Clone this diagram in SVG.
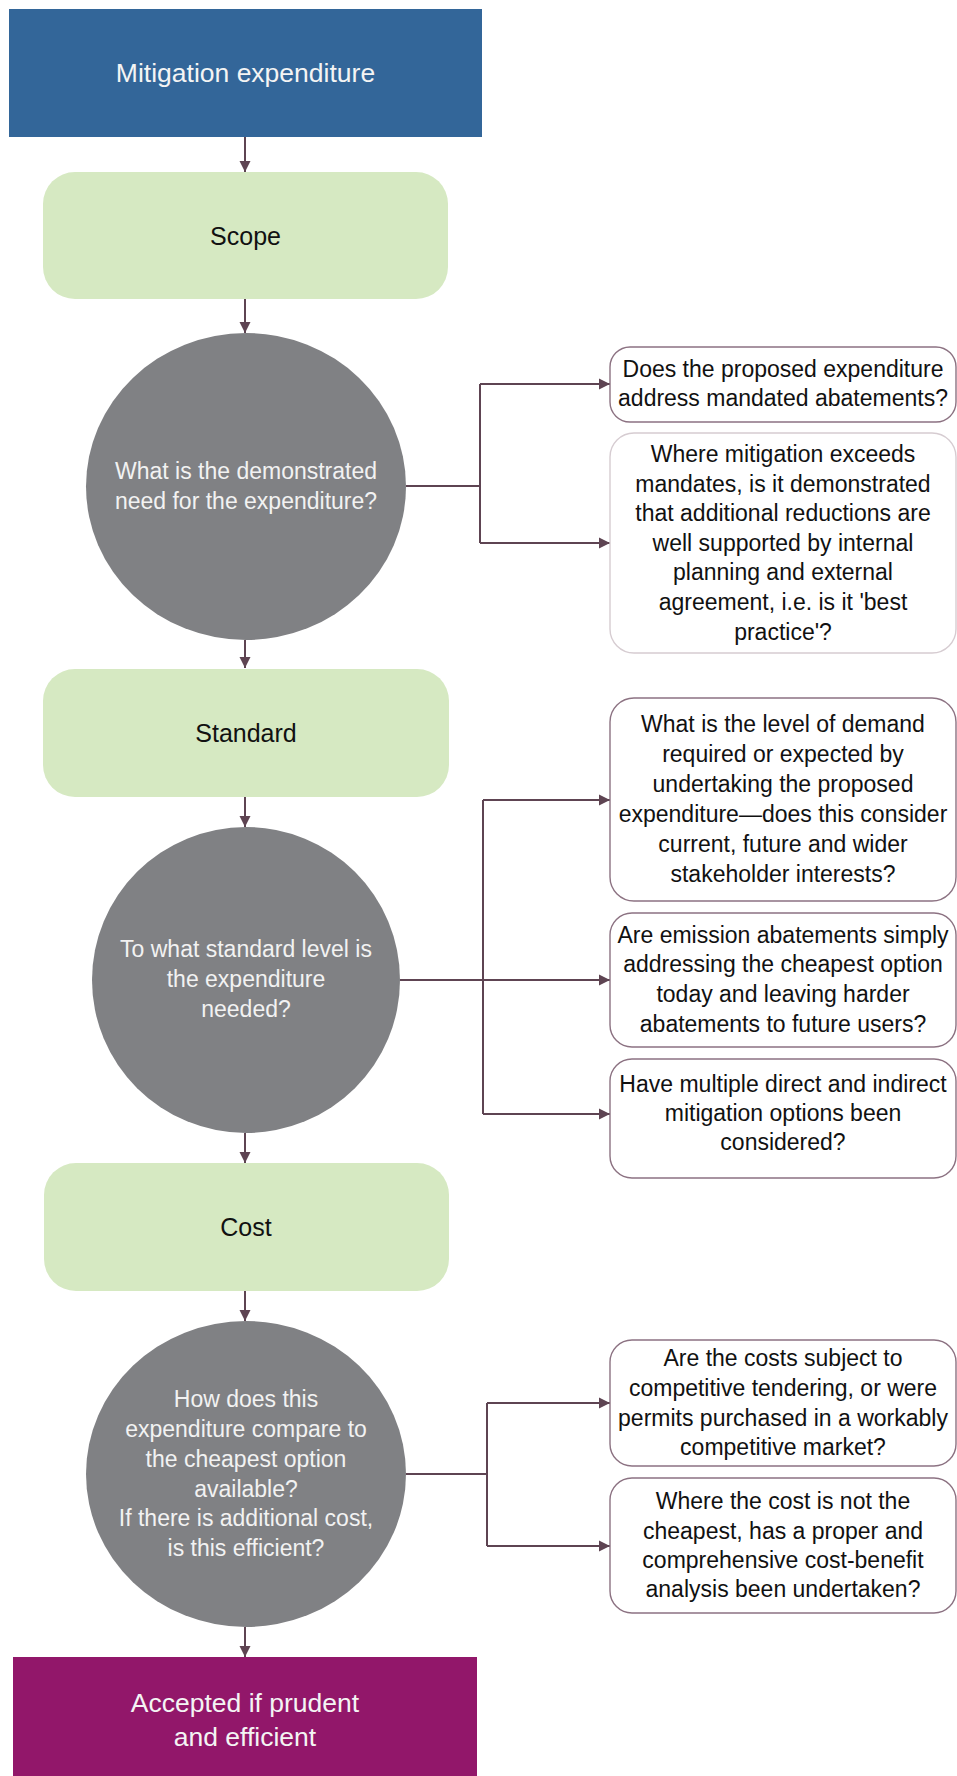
<svg xmlns="http://www.w3.org/2000/svg" width="957" height="1776" viewBox="0 0 957 1776">
<style>
  .t { font-family: "Liberation Sans", Arial, sans-serif; text-anchor: middle; }
  .title { font-size: 26.5px; fill: #f4f4f4; }
  .stage { font-size: 25px; fill: #111111; }
  .ctext { font-size: 23px; fill: #f2f2f2; }
  .btext { font-size: 23px; fill: #111111; }
  .green { fill: #d6e9c2; }
  .circ { fill: #808184; }
  .qbox { fill: #ffffff; stroke: #8c7282; stroke-width: 1.4; }
  .qbox.light { stroke: #d6ccd1; }
  .conn { fill: none; stroke: #5e4452; stroke-width: 2; }
</style>
<defs>
  <marker id="arr" markerUnits="userSpaceOnUse" markerWidth="12" markerHeight="12" refX="11" refY="6" orient="auto">
    <path d="M0,0.5 L11,6 L0,11.5 Z" fill="#5e4452"/>
  </marker>
</defs>
<rect width="957" height="1776" fill="#ffffff"/>

<g id="connectors">
  <path class="conn" d="M245,137 V172" marker-end="url(#arr)"/>
  <path class="conn" d="M245,299 V333" marker-end="url(#arr)"/>
  <path class="conn" d="M245,640 V668" marker-end="url(#arr)"/>
  <path class="conn" d="M245,797 V827" marker-end="url(#arr)"/>
  <path class="conn" d="M245,1133 V1163" marker-end="url(#arr)"/>
  <path class="conn" d="M245,1291 V1321" marker-end="url(#arr)"/>
  <path class="conn" d="M245,1627 V1657" marker-end="url(#arr)"/>

  <path class="conn" d="M406,486 H480"/>
  <path class="conn" d="M480,384 V543"/>
  <path class="conn" d="M480,384 H610" marker-end="url(#arr)"/>
  <path class="conn" d="M480,543 H610" marker-end="url(#arr)"/>

  <path class="conn" d="M400,980 H483"/>
  <path class="conn" d="M483,800 V1114"/>
  <path class="conn" d="M483,800 H610" marker-end="url(#arr)"/>
  <path class="conn" d="M483,980 H610" marker-end="url(#arr)"/>
  <path class="conn" d="M483,1114 H610" marker-end="url(#arr)"/>

  <path class="conn" d="M406,1474 H487"/>
  <path class="conn" d="M487,1403 V1546"/>
  <path class="conn" d="M487,1403 H610" marker-end="url(#arr)"/>
  <path class="conn" d="M487,1546 H610" marker-end="url(#arr)"/>
</g>

<g id="start">
  <rect x="9" y="9" width="473" height="128" fill="#336699"/>
  <text class="t title" x="245.5" y="82">Mitigation expenditure</text>
</g>

<g id="scope">
  <rect class="green" x="43" y="172" width="405" height="127" rx="32"/>
  <text class="t stage" x="245.5" y="245">Scope</text>
</g>

<g id="need">
  <ellipse class="circ" cx="246" cy="486.5" rx="160" ry="153.5"/>
  <text class="t ctext" x="246" y="479">What is the demonstrated</text>
  <text class="t ctext" x="246" y="509">need for the expenditure?</text>
</g>

<g id="q1">
  <rect class="qbox" x="610" y="347" width="346" height="75" rx="20"/>
  <text class="t btext" x="783" y="377">Does the proposed expenditure</text>
  <text class="t btext" x="783" y="406">address mandated abatements?</text>
</g>

<g id="q2">
  <rect class="qbox light" x="610" y="433" width="346" height="220" rx="24"/>
  <text class="t btext" x="783" y="462">Where mitigation exceeds</text>
  <text class="t btext" x="783" y="492">mandates, is it demonstrated</text>
  <text class="t btext" x="783" y="521">that additional reductions are</text>
  <text class="t btext" x="783" y="551">well supported by internal</text>
  <text class="t btext" x="783" y="580">planning and external</text>
  <text class="t btext" x="783" y="610">agreement, i.e. is it 'best</text>
  <text class="t btext" x="783" y="640">practice'?</text>
</g>

<g id="standard">
  <rect class="green" x="43" y="669" width="406" height="128" rx="32"/>
  <text class="t stage" x="246" y="742">Standard</text>
</g>

<g id="level">
  <ellipse class="circ" cx="246" cy="980" rx="154" ry="153"/>
  <text class="t ctext" x="246" y="957">To what standard level is</text>
  <text class="t ctext" x="246" y="987">the expenditure</text>
  <text class="t ctext" x="246" y="1017">needed?</text>
</g>

<g id="q3">
  <rect class="qbox" x="610" y="698" width="346" height="203" rx="24"/>
  <text class="t btext" x="783" y="732">What is the level of demand</text>
  <text class="t btext" x="783" y="762">required or expected by</text>
  <text class="t btext" x="783" y="792">undertaking the proposed</text>
  <text class="t btext" x="783" y="822">expenditure—does this consider</text>
  <text class="t btext" x="783" y="852">current, future and wider</text>
  <text class="t btext" x="783" y="882">stakeholder interests?</text>
</g>

<g id="q4">
  <rect class="qbox" x="610" y="913" width="346" height="134" rx="22"/>
  <text class="t btext" x="783" y="943">Are emission abatements simply</text>
  <text class="t btext" x="783" y="972">addressing the cheapest option</text>
  <text class="t btext" x="783" y="1002">today and leaving harder</text>
  <text class="t btext" x="783" y="1032">abatements to future users?</text>
</g>

<g id="q5">
  <rect class="qbox" x="610" y="1059" width="346" height="119" rx="22"/>
  <text class="t btext" x="783" y="1092">Have multiple direct and indirect</text>
  <text class="t btext" x="783" y="1121">mitigation options been</text>
  <text class="t btext" x="783" y="1150">considered?</text>
</g>

<g id="cost">
  <rect class="green" x="44" y="1163" width="405" height="128" rx="32"/>
  <text class="t stage" x="246" y="1236">Cost</text>
</g>

<g id="compare">
  <ellipse class="circ" cx="246" cy="1474" rx="160" ry="153"/>
  <text class="t ctext" x="246" y="1407">How does this</text>
  <text class="t ctext" x="246" y="1437">expenditure compare to</text>
  <text class="t ctext" x="246" y="1467">the cheapest option</text>
  <text class="t ctext" x="246" y="1497">available?</text>
  <text class="t ctext" x="246" y="1526">If there is additional cost,</text>
  <text class="t ctext" x="246" y="1556">is this efficient?</text>
</g>

<g id="q6">
  <rect class="qbox" x="610" y="1340" width="346" height="126" rx="22"/>
  <text class="t btext" x="783" y="1366">Are the costs subject to</text>
  <text class="t btext" x="783" y="1396">competitive tendering, or were</text>
  <text class="t btext" x="783" y="1426">permits purchased in a workably</text>
  <text class="t btext" x="783" y="1455">competitive market?</text>
</g>

<g id="q7">
  <rect class="qbox" x="610" y="1478" width="346" height="135" rx="22"/>
  <text class="t btext" x="783" y="1509">Where the cost is not the</text>
  <text class="t btext" x="783" y="1539">cheapest, has a proper and</text>
  <text class="t btext" x="783" y="1568">comprehensive cost-benefit</text>
  <text class="t btext" x="783" y="1597">analysis been undertaken?</text>
</g>

<g id="accepted">
  <rect x="13" y="1657" width="464" height="119" fill="#92176a"/>
  <text class="t title" x="245" y="1712">Accepted if prudent</text>
  <text class="t title" x="245" y="1746">and efficient</text>
</g>
</svg>
